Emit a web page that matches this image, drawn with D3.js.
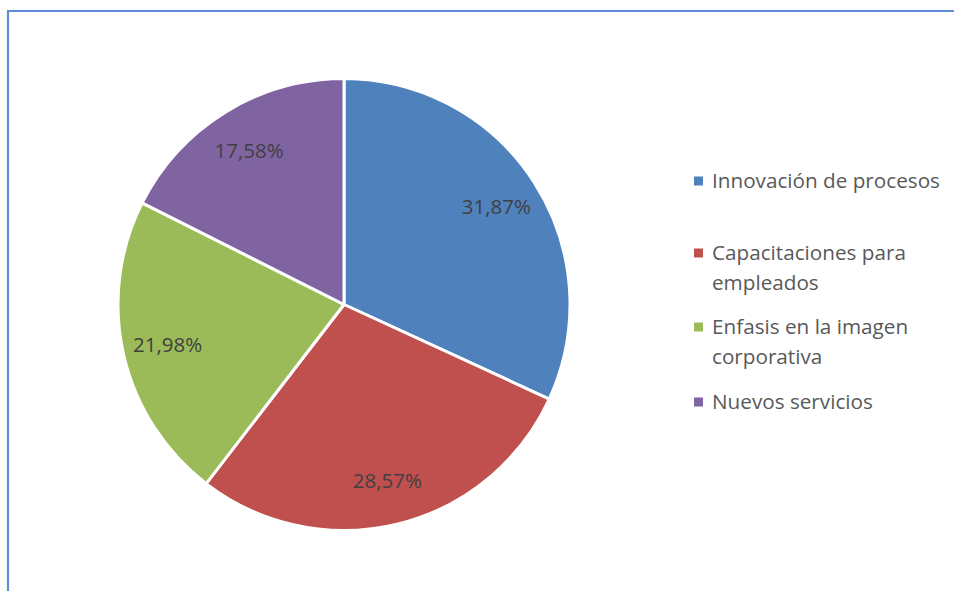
<!DOCTYPE html>
<html>
<head>
<meta charset="utf-8">
<script src="https://cdn.jsdelivr.net/npm/d3@7"></script>
<style>
  html, body { margin: 0; padding: 0; background: #fff; }
  svg { display: block; }
  text { font-family: "Open Sans", "Liberation Sans", Arial, sans-serif; }
</style>
</head>
<body>
<svg id="chart" width="954" height="591"></svg>
<script>
// Categories and their shares (%)
const categories = [
  "Innovación de procesos",
  "Capacitaciones para empleados",
  "Enfasis en la imagen corporativa",
  "Nuevos servicios"
];
const values = [31.87, 28.57, 21.98, 17.58];
const valueLabels = ["31,87%", "28,57%", "21,98%", "17,58%"];
// Legend text, wrapped into lines
const legendLines = [
  ["Innovación de procesos"],
  ["Capacitaciones para", "empleados"],
  ["Enfasis en la imagen", "corporativa"],
  ["Nuevos servicios"]
];
const colors = ["#4F81BD", "#C0504D", "#9BBB59", "#8064A2"];

const svg = d3.select("#chart");

// Frame: top and left edges of the chart area
svg.append("path")
  .attr("d", "M8,591 L8,11 L954,11")
  .attr("fill", "none")
  .attr("stroke", "#5B8ED6")
  .attr("stroke-width", 2.2);

const cx = 344, cy = 304.5, r = 226;
const color = d3.scaleOrdinal().domain(categories).range(colors);

const pie = d3.pie().sort(null).value(d => d.value);
const data = categories.map((c, i) => ({ name: c, value: values[i], label: valueLabels[i] }));
const arcs = pie(data);

const arc = d3.arc().innerRadius(0).outerRadius(r);
const labelArc = d3.arc().innerRadius(181).outerRadius(181);

const g = svg.append("g").attr("transform", `translate(${cx},${cy})`);

g.selectAll("path.slice")
  .data(arcs)
  .enter().append("path")
  .attr("class", "slice")
  .attr("d", arc)
  .attr("fill", d => color(d.data.name))
  .attr("stroke", "#fff")
  .attr("stroke-width", 3)
  .attr("stroke-linejoin", "round");

g.selectAll("text.val")
  .data(arcs)
  .enter().append("text")
  .attr("class", "val")
  .attr("transform", d => `translate(${labelArc.centroid(d)})`)
  .attr("text-anchor", "middle")
  .attr("dy", "0.36em")
  .attr("font-size", 20.5)
  .attr("fill", "#404040")
  .text(d => d.data.label);

// Legend
const legendX = 694, lineH = 29.5;
const legendY = [181, 253, 327, 402];
const lg = svg.append("g");
legendLines.forEach((lines, i) => {
  const item = lg.append("g").attr("transform", `translate(${legendX},${legendY[i]})`);
  item.append("rect")
    .attr("x", 0).attr("y", -4.5)
    .attr("width", 9).attr("height", 9)
    .attr("fill", colors[i]);
  const t = item.append("text")
    .attr("x", 18)
    .attr("font-size", 20.7)
    .attr("fill", "#595959");
  lines.forEach((ln, j) => {
    t.append("tspan")
      .attr("x", 18)
      .attr("y", j * lineH)
      .attr("dy", "0.36em")
      .text(ln);
  });
});
</script>
</body>
</html>
